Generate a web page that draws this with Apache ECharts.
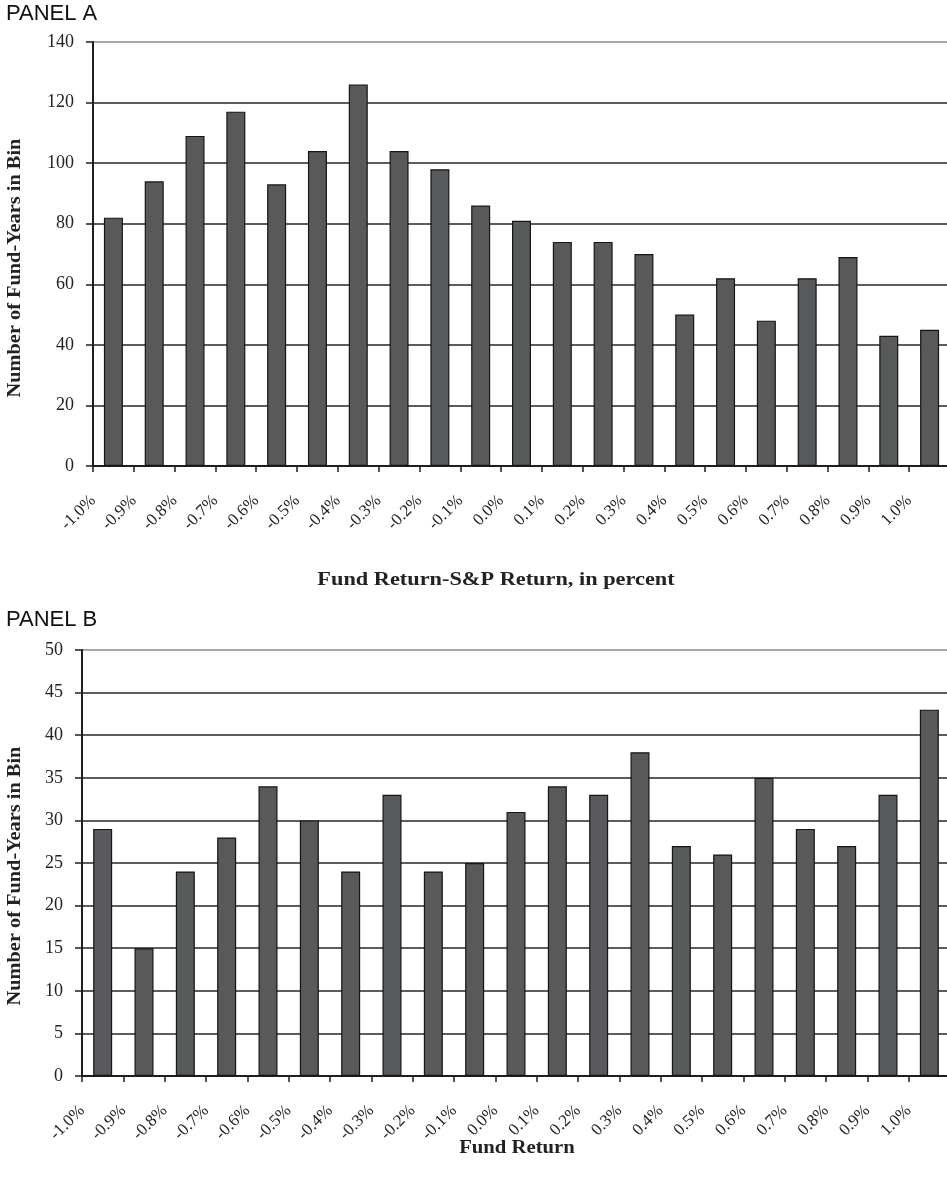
<!DOCTYPE html>
<html>
<head>
<meta charset="utf-8">
<script src="https://cdn.jsdelivr.net/npm/echarts@6/dist/echarts.min.js"></script>
<style>
  html, body { margin: 0; padding: 0; background: #fff; }
  #chart { width: 947px; height: 1185px; }
</style>
</head>
<body>
<div id="chart"></div>
<script>
// Bin labels (fund return relative to S&P / raw fund return, in percent)
const binLabelsA = ['-1.0%', '-0.9%', '-0.8%', '-0.7%', '-0.6%', '-0.5%', '-0.4%', '-0.3%', '-0.2%', '-0.1%', '0.0%',
  '0.1%', '0.2%', '0.3%', '0.4%', '0.5%', '0.6%', '0.7%', '0.8%', '0.9%', '1.0%'];
const binLabelsB = ['-1.0%', '-0.9%', '-0.8%', '-0.7%', '-0.6%', '-0.5%', '-0.4%', '-0.3%', '-0.2%', '-0.1%', '0.0%',
  '0.1%', '0.2%', '0.3%', '0.4%', '0.5%', '0.6%', '0.7%', '0.8%', '0.9%', '1.0%'];

// Number of fund-years falling in each bin
const countsA = [82, 94, 109, 117, 93, 104, 126, 104, 98, 86, 81, 74, 74, 70, 50, 62, 48, 62, 69, 43, 45];
const countsB = [29, 15, 24, 28, 34, 30, 24, 33, 24, 25, 31, 34, 33, 38, 27, 26, 35, 29, 27, 33, 43];

// Y tick settings
const yMaxA = 140, yStepA = 20;
const yMaxB = 50, yStepB = 5;

const serif = '"Liberation Serif", "DejaVu Serif", serif';
const sans = '"Liberation Sans", Arial, sans-serif';
const barFill = '#58595b';
const ink = '#1e1e1e';
const yTitle = 'Number of Fund-Years in Bin';

function splitColors(max, step) {
  const n = Math.round(max / step) + 1;
  const arr = [];
  for (let i = 0; i < n - 1; i++) arr.push('#262626');
  arr.push('#8c8c8c');
  return arr;
}

function xAxisFor(gridIndex, labels) {
  return {
    type: 'value',
    gridIndex: gridIndex,
    min: 0,
    max: labels.length,
    interval: 1,
    splitLine: { show: false },
    axisLine: { show: true, onZero: false, lineStyle: { color: ink, width: 2 } },
    axisTick: { show: true, inside: false, length: 6, lineStyle: { color: ink, width: 1.5 } },
    axisLabel: {
      show: true,
      showMinLabel: true,
      showMaxLabel: true,
      rotate: 45,
      margin: 32,
      color: '#222',
      fontFamily: serif,
      fontSize: 17,
      formatter: function (v) {
        const i = Math.round(v);
        return labels[i] !== undefined ? labels[i] : '';
      }
    }
  };
}

function yAxisFor(gridIndex, max, step) {
  return {
    type: 'value',
    gridIndex: gridIndex,
    min: 0,
    max: max,
    interval: step,
    axisLine: { show: true, lineStyle: { color: ink, width: 2 } },
    axisTick: { show: true, inside: false, length: 7, lineStyle: { color: ink, width: 1.5 } },
    axisLabel: { margin: 19, color: '#222', fontFamily: serif, fontSize: 18 },
    splitLine: { show: true, lineStyle: { color: splitColors(max, step), width: 1.5 } }
  };
}

function barSeries(axisIndex, counts) {
  return {
    type: 'bar',
    xAxisIndex: axisIndex,
    yAxisIndex: axisIndex,
    barWidth: 19,
    data: counts.map(function (v, i) { return [i + 0.5, v]; }),
    itemStyle: { color: barFill, borderColor: '#151515', borderWidth: 1.2 },
    emphasis: { disabled: true },
    animation: false
  };
}

function titleText(text, x, y, rotation, stretch) {
  return {
    type: 'text',
    x: x,
    y: y,
    rotation: rotation,
    scaleX: stretch,
    style: { text: text, font: 'bold 18px ' + serif, fill: '#222', align: 'center', verticalAlign: 'middle' }
  };
}

const chart = echarts.init(document.getElementById('chart'), null, { renderer: 'canvas' });

chart.setOption({
  backgroundColor: '#ffffff',
  animation: false,
  grid: [
    { left: 93, top: 42, width: 857, height: 424, containLabel: false, outerBoundsMode: 'none' },
    { left: 82, top: 650, width: 868, height: 426, containLabel: false, outerBoundsMode: 'none' }
  ],
  xAxis: [xAxisFor(0, binLabelsA), xAxisFor(1, binLabelsB)],
  yAxis: [yAxisFor(0, yMaxA, yStepA), yAxisFor(1, yMaxB, yStepB)],
  series: [barSeries(0, countsA), barSeries(1, countsB)],
  graphic: [
    { type: 'text', left: 6, top: 3, style: { text: 'PANEL A', font: '22px ' + sans, fill: '#111' } },
    { type: 'text', left: 6, top: 609, style: { text: 'PANEL B', font: '22px ' + sans, fill: '#111' } },
    titleText('Fund Return-S&P Return, in percent', 496, 580, 0, 1.24),
    titleText('Fund Return', 517, 1148, 0, 1.15),
    titleText(yTitle, 15, 268, Math.PI / 2, 1.13),
    titleText(yTitle, 15, 876, Math.PI / 2, 1.13)
  ]
});
</script>
</body>
</html>
